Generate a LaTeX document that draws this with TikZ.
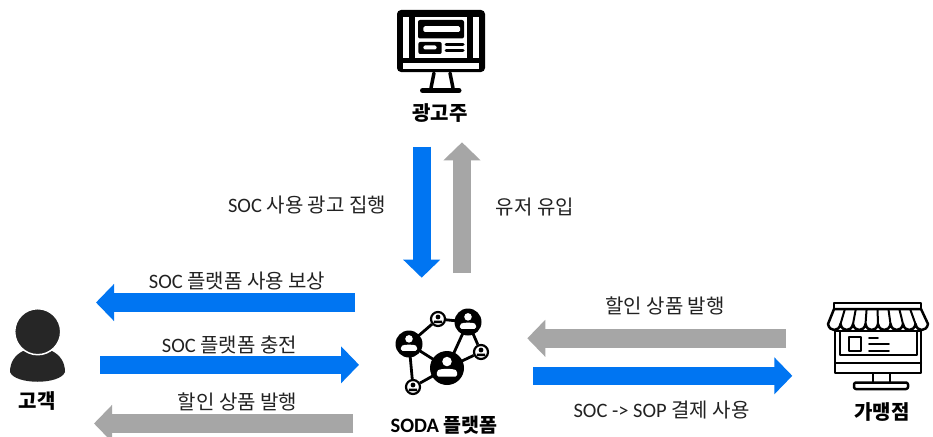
\documentclass[tikz,border=0pt]{standalone}
\usepackage{fontspec}
\setmainfont{Carlito}
\newfontfamily\kr{Noto Sans CJK KR}
\usetikzlibrary{arrows.meta}
\definecolor{bluearrow}{HTML}{0075F2}
\definecolor{greyarrow}{HTML}{A6A6A6}
\definecolor{ink}{HTML}{222222}
\definecolor{persongrey}{HTML}{262626}
\tikzset{
  x=1pt,y=-1pt,
  blockarrow/.style={line width=18.4pt,-{Triangle[width=36pt,length=18pt]}},
  bluearr/.style={blockarrow,draw=bluearrow,color=bluearrow},
  greyarr/.style={blockarrow,draw=greyarrow,color=greyarrow},
  lbl/.style={font=\fontsize{20.5}{24}\selectfont,text=ink,inner sep=0pt},
  kt/.style={font=\kr\bfseries\fontsize{20}{22}\selectfont,text=black,inner sep=0pt},
  icon/.style={draw=black,line width=3pt,line cap=round,line join=round},
}
\newcommand{\K}[1]{{\kr\fontsize{20}{24}\selectfont #1}}
\newcommand{\bigperson}[3]{% x y r
  \fill[black] (#1,#2) circle[radius=#3];
  \fill[white] (#1,#2-0.38*#3) circle[radius=0.28*#3];
  \fill[white,rounded corners=1.5pt] (#1-0.6*#3,#2+0.5*#3) -- (#1-0.6*#3,#2+0.2*#3) .. controls (#1-0.4*#3,#2+0.02*#3) and (#1+0.4*#3,#2+0.02*#3) .. (#1+0.6*#3,#2+0.2*#3) -- (#1+0.6*#3,#2+0.5*#3) -- cycle;}
\newcommand{\smallperson}[3]{%
  \fill[white] (#1,#2) circle[radius=#3];
  \draw[black,line width=2.2pt] (#1,#2) circle[radius=#3-1];
  \fill[black] (#1,#2-0.25*#3) circle[radius=0.3*#3];
  \fill[black] (#1-0.55*#3,#2+0.5*#3) -- (#1-0.5*#3,#2+0.2*#3) -- (#1+0.5*#3,#2+0.2*#3) -- (#1+0.55*#3,#2+0.5*#3) -- cycle;}
\begin{document}
\begin{tikzpicture}
\useasboundingbox (0,0) rectangle (933,436);
\fill[white] (0,0) rectangle (933,436);
% arrow end coordinates
\coordinate (adS) at (421.7,146.7); \coordinate (adE) at (421.7,277.7);
\coordinate (upS) at (462,273); \coordinate (upE) at (462,142.3);
\coordinate (l1S) at (355,302.5); \coordinate (l1E) at (96,302.5);
\coordinate (l2S) at (100,364.8); \coordinate (l2E) at (359,364.8);
\coordinate (l3S) at (353.3,423.5); \coordinate (l3E) at (94,423.5);
\coordinate (r1S) at (786,338.3); \coordinate (r1E) at (527.3,338.3);
\coordinate (r2S) at (533.3,375.8); \coordinate (r2E) at (792.3,375.8);
\draw[bluearr] (adS) -- (adE);
\draw[greyarr] (upS) -- (upE);
\draw[bluearr] (l1S) -- (l1E);
\draw[bluearr] (l2S) -- (l2E);
\draw[greyarr] (l3S) -- (l3E);
\draw[greyarr] (r1S) -- (r1E);
\draw[bluearr] (r2S) -- (r2E);
% labels
\node[lbl] (t1) at (307,205.5) {SOC \K{사용 광고 집행}};
\node[lbl] (t2) at (535,207) {\K{유저 유입}};
\node[lbl] (t3) at (237,281) {SOC \K{플랫폼 사용 보상}};
\node[lbl] (t4) at (229.5,345) {SOC \K{플랫폼 충전}};
\node[lbl] (t5) at (237.5,402) {\K{할인 상품 발행}};
\node[lbl] (t6) at (665,306) {\K{할인 상품 발행}};
\node[lbl] (t7) at (661.5,410) {SOC -> SOP \K{결제 사용}};
\node[kt] (n1) at (440,113) {광고주};
\node[kt] (n2) at (37,401) {고객};
\node[kt,font=\kr\bfseries\fontsize{19.5}{22}\selectfont] (n3) at (444,425) {{\rmfamily\bfseries\fontsize{20.5}{22}\selectfont SODA} 플랫폼};
\node[kt] (n4) at (882,412) {가맹점};
% advertiser monitor
\fill[black,rounded corners=4pt] (397,10) rectangle (485,72);
\fill[white] (402.7,16.7) rectangle (409.3,58);
\fill[white] (473.3,16.7) rectangle (479.3,58);
\fill[white] (415,16.7) rectangle (467.3,58);
\fill[white] (402.7,63.3) rectangle (479.3,69);
\fill[black,rounded corners=2pt] (418,20) rectangle (464,38.5);
\fill[white,rounded corners=1.5pt] (423.3,26.2) rectangle (460,32);
\fill[black,rounded corners=2pt] (418.3,42) rectangle (441.7,54);
\fill[white,rounded corners=1.5pt] (423.3,45.5) rectangle (436.7,49.5);
\draw[icon,line width=3pt] (446,45) -- (463,45) (446,51) -- (463,51);
\draw[icon,line width=3.5pt] (434,73) -- (431,88) (450,73) -- (453,88);
\draw[icon,line width=5pt] (422.5,90.5) -- (459,90.5);
% network icon
\coordinate (na) at (409,344); \coordinate (nb) at (438,319); \coordinate (nc) at (468,322);
\coordinate (nd) at (481,352); \coordinate (ne) at (447,368); \coordinate (nf) at (413,387);
\draw[black,line width=2.8pt] (na) -- (nb) -- (nc) -- (nd) -- (ne) -- (nf) -- (na) -- (ne) -- (nc);
\bigperson{409}{344}{13.5}
\bigperson{468}{322}{13.5}
\bigperson{447}{368}{17}
\smallperson{438}{319}{8}
\smallperson{481}{352}{8}
\smallperson{413}{387}{8}
% customer
\fill[persongrey] (10,372) .. controls (10,362) and (15,355) .. (23,351) -- (52,351) .. controls (60,355) and (65,362) .. (65,372) .. controls (60,385) and (15,385) .. (10,372) -- cycle;
\draw[white,line width=1.5pt,fill=persongrey] (37.7,331.7) circle[radius=23];
% shop icon
\draw[icon,line width=2.5pt,fill=white] (835,331) rectangle (921,373);
\draw[icon,line width=2pt] (840,332) -- (840,355) -- (917,355) -- (917,332);
\draw[icon,line width=2pt] (835,363) -- (921,363);
\draw[icon,line width=2.5pt] (849,337) rectangle (861,351);
\draw[icon,line width=1.8pt] (869,338) -- (878,338) (869,344) -- (889,344) (869,351) -- (889,351);
\draw[icon,line width=2.5pt] (873,374) -- (873,382) (890,374) -- (890,382);
\draw[icon,line width=2.5pt,rounded corners=2pt] (854,382.5) rectangle (908,389);
\draw[icon,line width=2.5pt,fill=white] (834,303) rectangle (921,309);
\draw[icon,line width=2.5pt,fill=white] (834,309) -- (828,324) .. controls (829.5,332) and (839,332) .. (840.5,324) .. controls (842,332) and (851.5,332) .. (853,324) .. controls (854.5,332) and (864,332) .. (865.5,324) .. controls (867,332) and (876.5,332) .. (878,324) .. controls (879.5,332) and (889,332) .. (890.5,324) .. controls (892,332) and (901.5,332) .. (903,324) .. controls (904.5,332) and (914,332) .. (915.5,324) .. controls (917,332) and (926.5,332) .. (928,324) -- (921,309) -- cycle;
\draw[icon,line width=2pt] (844.9,309) -- (840.5,324) (855.8,309) -- (853,324) (866.6,309) -- (865.5,324) (877.5,309) -- (878,324) (888.4,309) -- (890.5,324) (899.3,309) -- (903,324) (910.1,309) -- (915.5,324);
\end{tikzpicture}
\end{document}
